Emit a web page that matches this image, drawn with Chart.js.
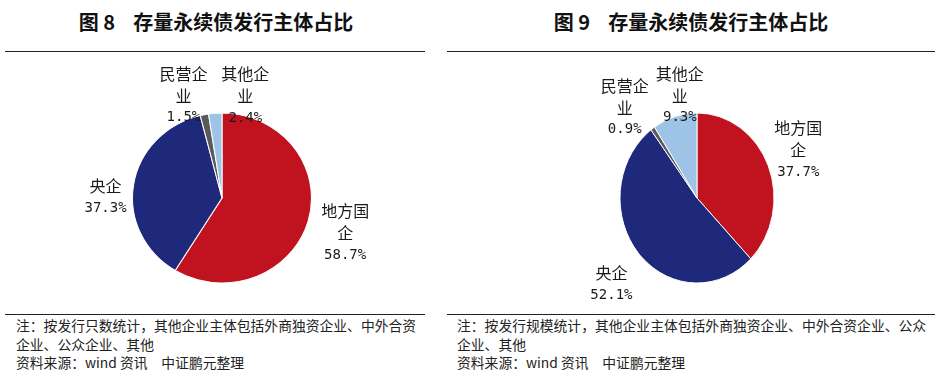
<!DOCTYPE html>
<html>
<head>
<meta charset="utf-8">
<script src="https://cdn.jsdelivr.net/npm/chart.js@4/dist/chart.umd.min.js"></script>
<style>
  html,body{margin:0;padding:0;background:#fff;}
  body{width:941px;height:377px;position:relative;overflow:hidden;font-family:"Noto Sans CJK SC",sans-serif;}
  .title{position:absolute;top:9px;font-size:20px;line-height:26px;font-weight:bold;color:#111;text-align:center;white-space:pre;}
  .rule{position:absolute;height:0;border-top:1.6px solid #222;}
  .note{position:absolute;top:316px;font-size:13.8px;line-height:18.5px;color:#222;white-space:pre;}
  canvas{position:absolute;}
</style>
</head>
<body>
<div class="title" style="left:0;width:432px;">图 8    存量永续债发行主体占比</div>
<div class="title" style="left:447px;width:488px;">图 9    存量永续债发行主体占比</div>
<div class="rule" style="left:5px;width:420px;top:51px;"></div>
<div class="rule" style="left:447px;width:488px;top:51px;"></div>
<div class="rule" style="left:5px;width:420px;top:314px;"></div>
<div class="rule" style="left:447px;width:488px;top:314px;"></div>
<div class="note" style="left:16px;">注：按发行只数统计，其他企业主体包括外商独资企业、中外合资
企业、公众企业、其他
资料来源：wind 资讯　中证鹏元整理</div>
<div class="note" style="left:457px;">注：按发行规模统计，其他企业主体包括外商独资企业、中外合资企业、公众
企业、其他
资料来源：wind 资讯　中证鹏元整理</div>
<canvas id="c1" width="444" height="286" style="left:0;top:55px;"></canvas>
<canvas id="c2" width="488" height="286" style="left:453px;top:55px;"></canvas>
<script>
const categories = ['地方国企', '央企', '民营企业', '其他企业'];
const countShare = [58.7, 37.3, 1.5, 2.4];   // 图8 按发行只数
const scaleShare = [37.7, 52.1, 0.9, 9.3];   // 图9 按发行规模
const labelLines = [['地方国', '企'], ['央企'], ['民营企', '业'], ['其他企', '业']];

const colors = ['#C1121F', '#1F297C', '#5A5A5A', '#9DC3E6'];

const ellipsePlugin = {
  id: 'ellipse',
  beforeDatasetsDraw(chart, args, opts) {
    const a = chart.getDatasetMeta(0).data[0];
    const ctx = chart.ctx;
    ctx.save();
    ctx.translate(a.x, a.y);
    ctx.scale(opts.sx, 1);
    ctx.translate(-a.x, -a.y);
  },
  afterDatasetsDraw(chart) { chart.ctx.restore(); }
};

const sliceLabels = {
  id: 'sliceLabels',
  afterDraw(chart, args, opts) {
    const ctx = chart.ctx;
    const sx = chart.options.plugins.ellipse.sx;
    const vals = chart.data.datasets[0].data;
    chart.getDatasetMeta(0).data.forEach((arc, i) => {
      const mid = (arc.startAngle + arc.endAngle) / 2;
      const ax = arc.x + Math.cos(mid) * arc.outerRadius * sx;
      const ay = arc.y + Math.sin(mid) * arc.outerRadius;
      const off = opts.offsets[i];
      const cx = ax + off[0], cy = ay + off[1];
      const lines = labelLines[i].concat([vals[i].toFixed(1) + '%']);
      const lh = 22;
      const y0 = cy - (lines.length - 1) * lh / 2;
      ctx.save();
      ctx.fillStyle = '#1a1a1a';
      ctx.textAlign = 'center';
      ctx.textBaseline = 'middle';
      lines.forEach((t, k) => {
        const isNum = k === lines.length - 1;
        ctx.font = isNum ? '14px "DejaVu Sans Mono", monospace' : '16px "Noto Sans CJK SC", sans-serif';
        ctx.fillText(t, cx, y0 + k * lh);
      });
      ctx.restore();
    });
  }
};

function makePie(id, values, sx, offsets) {
  return new Chart(document.getElementById(id), {
    type: 'pie',
    data: {
      labels: categories,
      datasets: [{
        data: values,
        backgroundColor: colors,
        borderColor: '#ffffff',
        borderWidth: 1,
        radius: 85
      }]
    },
    options: {
      responsive: false,
      animation: false,
      layout: { padding: 0 },
      plugins: {
        legend: { display: false },
        tooltip: { enabled: false },
        ellipse: { sx: sx },
        sliceLabels: { offsets: offsets }
      }
    },
    plugins: [ellipsePlugin, sliceLabels]
  });
}

makePie('c1', countShare, 1.053, [[37, 12], [-28, 12], [-21, -19], [30, -17]]);
makePie('c2', scaleShare, 0.906, [[30, -16], [-27, 31], [-28, -21], [5, -21]]);
</script>
</body>
</html>
